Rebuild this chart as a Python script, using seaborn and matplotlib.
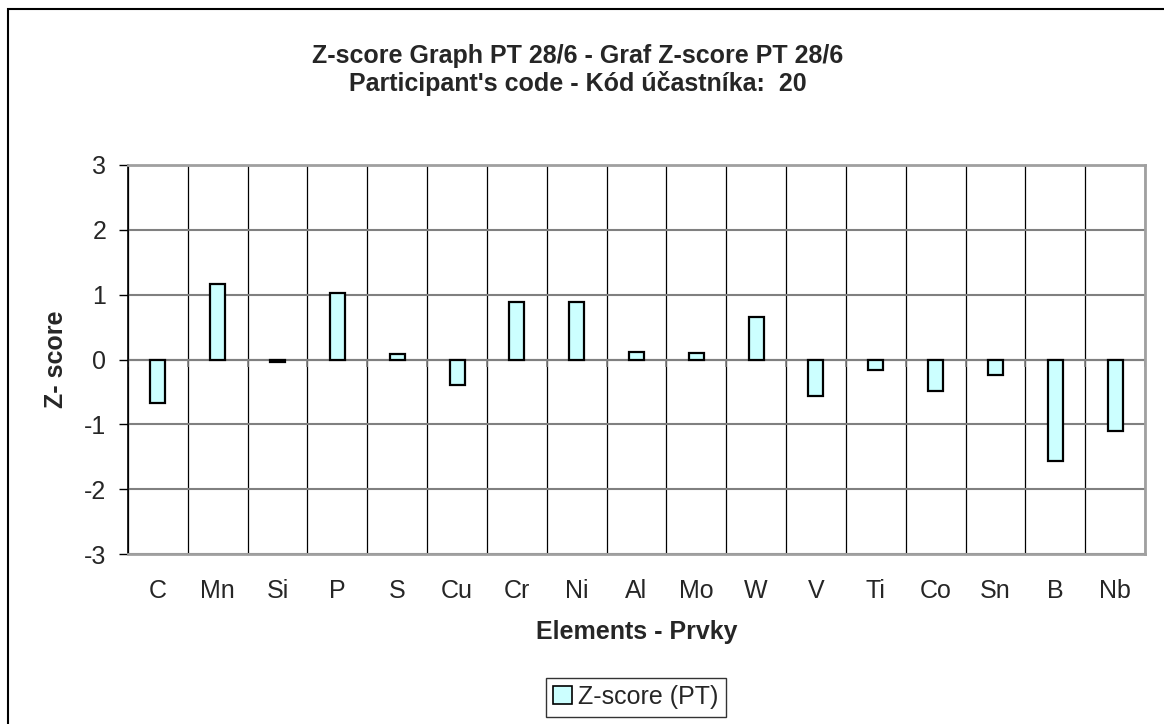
import numpy as np
import pandas as pd
import seaborn as sns
import matplotlib
matplotlib.use('Agg')
import matplotlib.pyplot as plt
from matplotlib.patches import Rectangle, Patch

# data
elements = ['C', 'Mn', 'Si', 'P', 'S', 'Cu', 'Cr', 'Ni', 'Al', 'Mo', 'W',
            'V', 'Ti', 'Co', 'Sn', 'B', 'Nb']
zscores = [-0.67, 1.17, -0.04, 1.03, 0.08, -0.40, 0.89, 0.89, 0.11, 0.10, 0.66,
           -0.56, -0.16, -0.49, -0.24, -1.56, -1.11]
yticks = [-3, -2, -1, 0, 1, 2, 3]

title = "Z-score Graph PT 28/6 - Graf Z-score PT 28/6\nParticipant's code - Kód účastníka:  20"
bar_color = '#CCFFFF'

df = pd.DataFrame({'Element': elements, 'Z': zscores})

sns.set_style('white')
plt.rcParams['font.family'] = ['Liberation Sans', 'DejaVu Sans']
plt.rcParams['axes.unicode_minus'] = False

fig = plt.figure(figsize=(11.64, 7.24), dpi=100)
ax = fig.add_axes([128/1164, 1-554/724, (1145-128)/1164, (554-165)/724])

sns.barplot(data=df, x='Element', y='Z', color=bar_color, edgecolor='black',
            linewidth=1.6, width=0.25, saturation=1, ax=ax, zorder=3)

ax.set_ylim(-3, 3)
ax.set_xlim(-0.5, len(elements) - 0.5)
ax.set_yticks(yticks)
ax.set_yticklabels([str(t) for t in yticks], fontsize=18)
ax.tick_params(axis='x', labelsize=18, length=0, pad=18)
ax.tick_params(axis='y', direction='out', length=6.5, width=1, color='black',
               left=True, pad=9)

# grid: gray horizontal, black vertical at category boundaries
ax.set_xticks(np.arange(-0.5, len(elements), 1), minor=True)
ax.tick_params(axis='x', which='minor', length=0)
ax.grid(axis='y', which='major', color='#808080', linewidth=1.5, zorder=0)
ax.grid(axis='x', which='minor', color='black', linewidth=0.9, zorder=0)
ax.grid(axis='x', which='major', visible=False)
ax.set_axisbelow(True)

# category axis at zero with downward tick marks
ax.axhline(0, color='#808080', linewidth=1.5, zorder=2)
ax.vlines(np.arange(-0.5, len(elements), 1), -0.11, 0, color='#808080',
          linewidth=1.2, zorder=2)

for side in ['top', 'right', 'bottom']:
    ax.spines[side].set_color('#a0a0a0')
    ax.spines[side].set_linewidth(2)
ax.spines['left'].set_color('black')
ax.spines['left'].set_linewidth(1.2)

ax.set_xlabel('Elements - Prvky', fontsize=18, fontweight='bold', labelpad=12)
ax.set_ylabel('Z- score', fontsize=18, fontweight='bold')
ax.yaxis.set_label_coords(-0.059, 0.5)

fig.text(578/1164, 1-70/724, title, ha='center', va='center', fontsize=18,
         fontweight='bold', linespacing=1.2)

handle = Patch(facecolor=bar_color, edgecolor='black', linewidth=1.2)
leg = fig.legend([handle], ['Z-score (PT)'], loc='center',
                 bbox_to_anchor=(636/1164, 1-697/724), fontsize=18,
                 frameon=True, fancybox=False, edgecolor='black',
                 handlelength=0.75, handleheight=0.75, handletextpad=0.25,
                 borderpad=0.3, borderaxespad=0)
leg.get_frame().set_linewidth(1.0)

# outer chart-area border (left and top visible)
fig.patches.append(Rectangle((8/1164, -0.1), 1.2, 1.1 - 9/724,
                             transform=fig.transFigure, fill=False,
                             edgecolor='black', linewidth=1.5))

fig.savefig('out.png', dpi=100)
